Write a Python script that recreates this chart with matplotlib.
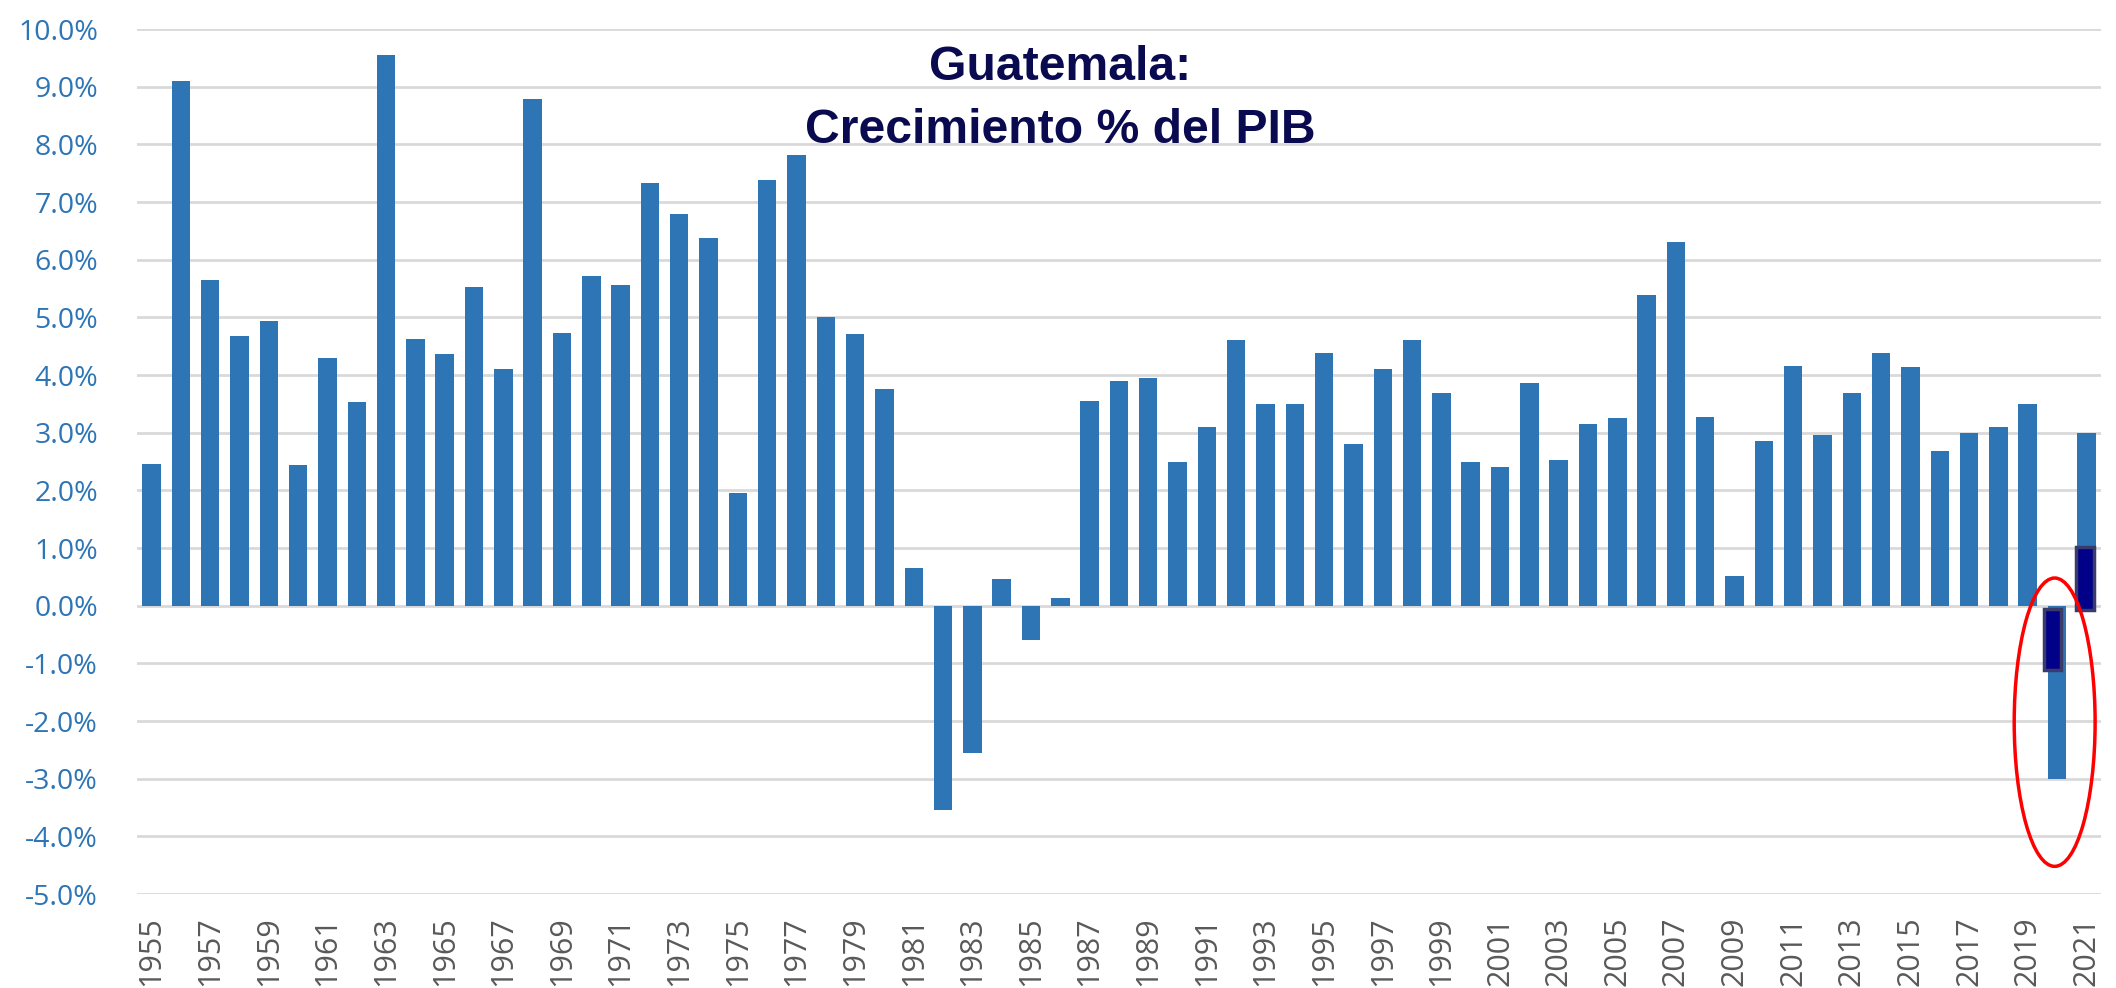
import matplotlib.pyplot as plt
from matplotlib.patches import Ellipse
import numpy as np

years = list(range(1955, 2022))
growth = [2.46, 9.10, 5.64, 4.68, 4.93, 2.44, 4.30, 3.53, 9.55, 4.62,
          4.36, 5.52, 4.10, 8.78, 4.73, 5.72, 5.57, 7.33, 6.79, 6.38,
          1.96, 7.38, 7.81, 5.00, 4.72, 3.75, 0.66, -3.55, -2.55, 0.46,
          -0.60, 0.13, 3.55, 3.89, 3.95, 2.49, 3.10, 4.61, 3.49, 3.49,
          4.39, 2.80, 4.11, 4.61, 3.69, 2.49, 2.41, 3.87, 2.53, 3.15,
          3.26, 5.38, 6.31, 3.28, 0.52, 2.86, 4.16, 2.96, 3.69, 4.39,
          4.14, 2.69, 3.00, 3.10, 3.49, -3.00, 3.00]

# highlighted estimates drawn on top of 2020 and 2021
hl_years = [2020, 2021]
hl_low = [-1.12, -0.08]
hl_high = [-0.05, 1.01]

yticks = np.arange(-5, 11, 1)

blue = '#2E75B6'

fig = plt.figure(figsize=(21.16, 9.88), dpi=100)
ax = fig.add_axes([0.0647, 0.0951, 0.9282, 0.8755])

x = np.arange(len(years))
ax.bar(x, growth, width=0.63, color=blue, zorder=2)

hx = np.array([years.index(y) for y in hl_years]) - np.array([0.15, 0.05])
ax.bar(hx, np.array(hl_high) - np.array(hl_low), bottom=hl_low, width=0.6,
       color='#000088', edgecolor='#3b3b6b', linewidth=2.5, zorder=3)

ax.add_patch(Ellipse((years.index(2020) - 0.08, -2.02), 2.76, 5.0,
                     fill=False, edgecolor='#ff0000', linewidth=2.5, zorder=4))

ax.set_xlim(-0.5, len(years) - 0.5)
ax.set_ylim(-5, 10)
ax.set_yticks(yticks)
ax.set_yticklabels(['%.1f%%' % v for v in yticks], color=blue,
                   fontsize=20.5, family='Open Sans')
ax.set_xticks(x[::2])
ax.set_xticklabels([str(y) for y in years[::2]], rotation=90, color='#595959',
                   fontsize=22, family='Open Sans')
ax.tick_params(axis='y', length=0, pad=28)
ax.tick_params(axis='x', length=0, pad=16)
ax.grid(axis='y', color='#d9d9d9', linewidth=2, zorder=0)
ax.set_axisbelow(True)
for s in ax.spines.values():
    s.set_visible(False)

title_kw = dict(ha='center', va='baseline', fontsize=34.7, fontweight='bold',
                color='#0a0a50', family='Liberation Sans')
fig.text(0.501, 1 - 80 / 988, 'Guatemala:', **title_kw)
fig.text(0.501, 1 - 143 / 988, 'Crecimiento % del PIB', **title_kw)

fig.savefig('out.png', dpi=100)
